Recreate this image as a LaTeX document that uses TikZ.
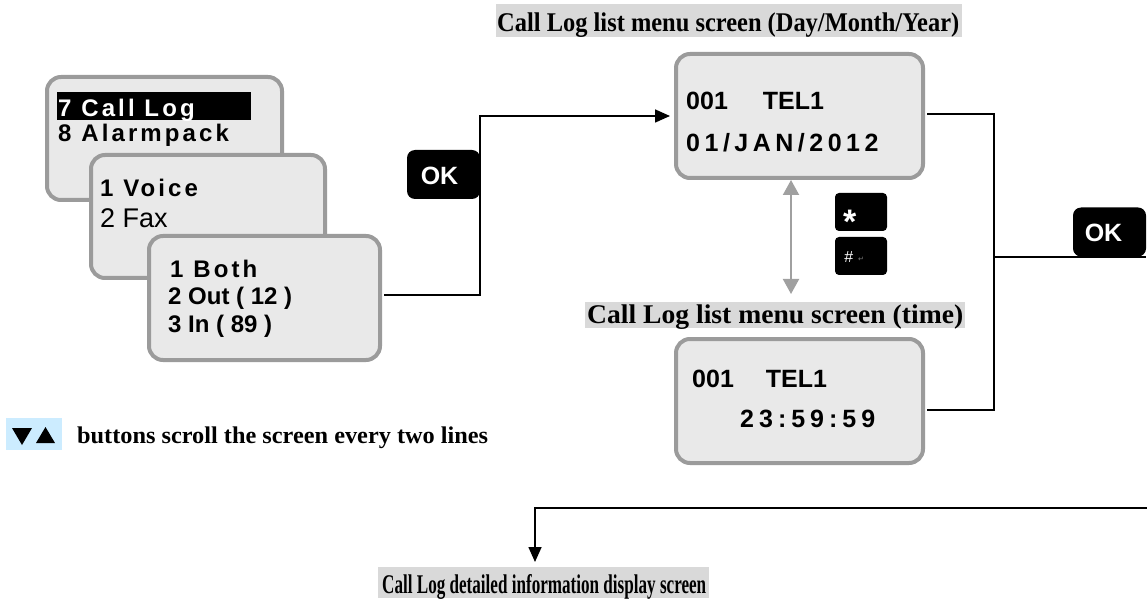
\documentclass[tikz,border=0pt]{standalone}
\usepackage{fontspec}
\usepackage{graphicx}
\setmainfont{Liberation Serif}
\newfontfamily\arial{Liberation Sans}
\newfontfamily\arialsp[LetterSpace=13]{Liberation Sans}
\newfontfamily\arialspm[LetterSpace=18]{Liberation Sans}
\newfontfamily\arialspw[LetterSpace=20]{Liberation Sans}
\newfontfamily\dejavu{DejaVu Sans}
\usetikzlibrary{arrows.meta,calc}
\definecolor{scrfill}{RGB}{233,233,233}
\definecolor{scrline}{RGB}{155,155,155}
\definecolor{headbg}{RGB}{217,217,217}
\definecolor{iconbg}{RGB}{204,236,255}
\definecolor{garrow}{RGB}{160,160,160}
\begin{document}
\begin{tikzpicture}[x=1pt,y=-1pt,
  screen/.style={draw=scrline, line width=4pt, fill=scrfill, rounded corners=14pt, inner sep=0pt, anchor=north west},
  keybox/.style={fill=black, rounded corners=4pt, inner sep=0pt, minimum width=52pt, minimum height=38pt},
  okbox/.style={fill=black, rounded corners=8pt, inner sep=0pt, minimum width=73pt, minimum height=49pt},
  oktext/.style={inner sep=0pt, text=white, font=\arial\bfseries\fontsize{25}{29}\selectfont},
  menusp/.style={anchor=base west, inner sep=0pt, font=\arialsp\bfseries\fontsize{24}{28}\selectfont},
  menun/.style={anchor=base west, inner sep=0pt, font=\arial\bfseries\fontsize{24}{28}\selectfont},
  menur/.style={anchor=base west, inner sep=0pt, font=\arial\fontsize{27}{31}\selectfont},
  scrn/.style={anchor=base west, inner sep=0pt, font=\arial\bfseries\fontsize{25}{29}\selectfont},
  scrspm/.style={anchor=base west, inner sep=0pt, font=\arialspm\bfseries\fontsize{25}{29}\selectfont},
  scrspw/.style={anchor=base west, inner sep=0pt, font=\arialspw\bfseries\fontsize{25}{29}\selectfont},
  head/.style={anchor=base west, inner sep=0pt, font=\bfseries\fontsize{27}{31}\selectfont},
  headbox/.style={fill=headbg, inner sep=0pt, anchor=north west},
  conn/.style={draw=black, line width=1.6pt},
  tip/.style={-{Triangle[length=15pt,width=13pt]}},
  gconn/.style={draw=garrow, line width=2pt, {Triangle[length=15pt,width=16pt]}-{Triangle[length=15pt,width=16pt]}}
]
\useasboundingbox (0,0) rectangle (1147,601);

% ---------- boxes needed for connectors ----------
\node[okbox] (okL) at (443.5,174.5) {};
\node[okbox] (okR) at (1109.5,232) {};

% ---------- screens of the left stack ----------
\node[screen, minimum width=235pt, minimum height=123pt] (s1) at (45,75) {};
\node[fill=black, inner sep=0pt, anchor=north west, minimum width=194pt, minimum height=28pt] (hl) at (57,92) {};
\node[menusp, text=white] (t1) at (58,117) {7 Call Log};
\node[menusp] (t2) at (58,142) {8 Alarmpack};

\node[screen, minimum width=234pt, minimum height=123pt] (s2) at (89,153) {};
\node[menusp] (t3) at (100,197) {1 Voice};
\node[menur] (t4) at (100,228) {2 Fax};

\node[screen, minimum width=231pt, minimum height=124pt] (s3) at (147,234) {};
\node[menusp] (t5) at (170,277) {1 Both};
\node[menun] (t6) at (168,305) {2 Out ( 12 )};
\node[menun] (t7) at (168,332) {3 In ( 89 )};

% ---------- right screens ----------
\node[screen, minimum width=247pt, minimum height=124pt] (sA) at (674,52) {};
\node[scrn] (a1) at (686,110) {001\hspace{35pt}TEL1};
\node[scrspm] (a2) at (686,152) {01/JAN/2012};

\node[screen, minimum width=247pt, minimum height=124pt] (sB) at (674,337) {};
\node[scrn] (b1t) at (692,387) {001\hspace{32pt}TEL1};
\node[scrspw] (b2t) at (740,427) {23:59:59};

% ---------- connectors ----------
\coordinate (p1) at ($(s3.east)+(2,-3)$);
\draw[conn, tip, shorten >=2pt] (p1) -- (p1 -| okL.east) |- (sA.west -| 672,112);
\coordinate (q1) at ($(sA.east)+(2,-2)$);
\coordinate (q2) at ($(sB.east)+(2,9)$);
\coordinate (qj) at (994,257);
\draw[conn] (q1) -- (q1 -| qj) |- (q2);
\draw[conn] (qj) -- (qj -| okR.east);
\coordinate (r1) at (1147,508);
\coordinate (r2) at (535,562);
\draw[conn, tip] (r1) -| (r2);
\coordinate (g1) at (791,180);
\coordinate (g2) at (791,294);
\draw[gconn] (g1) -- (g2);

% ---------- OK texts ----------
\node[oktext] (okLt) at ($(okL.center)+(-4,1)$) {OK};
\node[oktext] (okRt) at ($(okR.center)+(-6,1)$) {OK};

% ---------- * and # keys ----------
\node[keybox] (kstar) at (861,212) {};
\node[keybox] (khash) at (861,256) {};
\node[anchor=base west, inner sep=0pt, text=white, font=\arial\bfseries\fontsize{34}{34}\selectfont] (kstart) at (843,234) {*};
\node[anchor=base west, inner sep=0pt, text=white, font=\arial\itshape\fontsize{16}{16}\selectfont] (khasht) at (844,263) {\#};
\node[anchor=base west, inner sep=0pt, text=gray, font=\dejavu\fontsize{7}{7}\selectfont] (khashm) at (858,262) {↵};

% ---------- headings ----------
\node[headbox, minimum width=466pt, minimum height=33pt] (h1bg) at (496,4) {};
\node[head] (h1) at (497,32) {\resizebox{462pt}{\height}{Call Log list menu screen (Day/Month/Year)}};

\begin{scope}
\clip (585,296) rectangle (965,328);
\node[headbox, minimum width=380pt, minimum height=26pt] (h2bg) at (585,302) {};
\node[head] (h2) at (587,323) {\resizebox{376pt}{\height}{Call Log list menu screen (time)}};
\end{scope}

\node[headbox, minimum width=331pt, minimum height=31pt] (h3bg) at (378,567) {};
\node[head] (h3) at (382,593) {\resizebox{324pt}{\height}{Call Log detailed information display screen}};

% ---------- scroll note ----------
\node[fill=iconbg, inner sep=0pt, anchor=north west, minimum width=56pt, minimum height=32pt] (icon) at (6,418) {};
\fill[black] (12,428) -- (32,428) -- (22,445) -- cycle;
\fill[black] (36,443) -- (55,443) -- (45.5,427) -- cycle;
\node[anchor=base west, inner sep=0pt, font=\bfseries\fontsize{24}{28}\selectfont] (note) at (77,443) {\resizebox{411pt}{\height}{buttons scroll the screen every two lines}};
\end{tikzpicture}
\end{document}
